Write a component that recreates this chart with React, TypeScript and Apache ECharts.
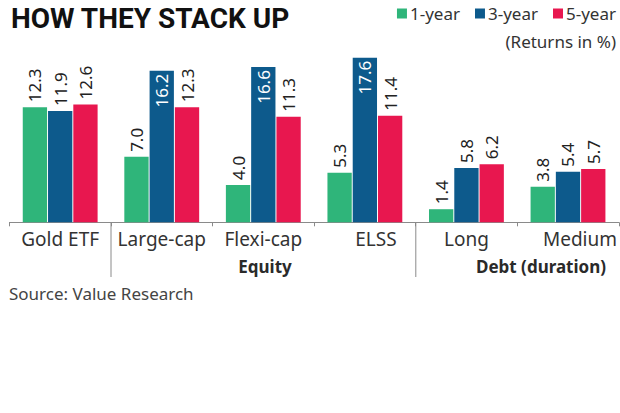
import React, { useEffect, useRef } from "react";
import * as echarts from "echarts";

const categories = ["Gold ETF", "Large-cap", "Flexi-cap", "ELSS", "Long", "Medium"];
const oneYear = [12.3, 7.0, 4.0, 5.3, 1.4, 3.8];
const threeYear = [11.9, 16.2, 16.6, 17.6, 5.8, 5.4];
const fiveYear = [12.6, 12.3, 11.3, 11.4, 6.2, 5.7];
const seriesNames = ["1-year", "3-year", "5-year"];
const colors = ["#2fb57a", "#0d5a8c", "#e8174f"];
const labelShift: Record<string, number> = { ELSS: 22, Medium: 24 };

const FONT = "'Noto Sans', sans-serif";
const GRID_LEFT = 9.4;
const GRID_RIGHT = 1;
const W = 620;
const H = 413;
const CAT_W = (W - GRID_LEFT - GRID_RIGHT) / categories.length;

export default function App() {
  const ref = useRef<HTMLDivElement>(null);
  useEffect(() => {
    document.body.style.margin = "0";
    const chart = echarts.init(ref.current!, undefined, { renderer: "svg" });
    const topLabel = {
      show: true,
      position: "top",
      rotate: 90,
      align: "left",
      verticalAlign: "middle",
      distance: 5,
      fontSize: 17,
      color: "#222",
      fontFamily: FONT,
      formatter: (p: any) => Number(p.value).toFixed(1),
    };
    const makeData = (arr: number[], allowInside: boolean) =>
      arr.map((v) =>
        allowInside && v > 15
          ? {
              value: v,
              label: {
                position: "insideTop",
                align: "right",
                color: "#fff",
                distance: 3,
              },
            }
          : v
      );
    const lists = [oneYear, threeYear, fiveYear];
    chart.setOption({
      animation: false,
      grid: { left: GRID_LEFT, right: GRID_RIGHT, top: 54, bottom: H - 222.3 },
      legend: {
        data: seriesNames,
        right: 4,
        top: 3,
        padding: [2, 0, 2, 0],
        icon: "rect",
        itemWidth: 10,
        itemHeight: 10,
        itemGap: 15,
        textStyle: { fontSize: 17, color: "#333", fontFamily: FONT, padding: [0, 0, 0, -2] },
      },
      xAxis: {
        type: "category",
        data: categories,
        axisLine: { lineStyle: { color: "#8a8a8a", width: 1 } },
        axisTick: { show: true, length: 4, lineStyle: { color: "#8a8a8a" } },
        axisLabel: {
          interval: 0,
          fontSize: 19,
          color: "#333",
          fontFamily: FONT,
          margin: 7,
          formatter: (v: string) =>
            labelShift[v] ? `{s${labelShift[v]}|${v}}` : v,
          rich: {
            s22: { fontSize: 19, color: "#333", fontFamily: FONT, padding: [0, 0, 0, 22] },
            s24: { fontSize: 19, color: "#333", fontFamily: FONT, padding: [0, 0, 0, 24] },
          },
        },
      },
      yAxis: {
        type: "value",
        min: 0,
        max: 18,
        show: false,
        splitLine: { show: false },
      },
      series: lists.map((arr, i) => ({
        name: seriesNames[i],
        type: "bar",
        barWidth: 24.3,
        barGap: "4%",
        itemStyle: { color: colors[i] },
        label: topLabel,
        data: makeData(arr, i === 1),
      })),
      graphic: [
        {
          type: "text",
          left: 11,
          top: 4,
          style: {
            text: "HOW THEY STACK UP",
            fontSize: 28,
            fontWeight: "bold",
            fontFamily: "Roboto, sans-serif",
            fill: "#111",
          },
        },
        {
          type: "text",
          right: 4,
          top: 33,
          style: { text: "(Returns in %)", fontSize: 17, fontFamily: FONT, fill: "#333" },
        },
        {
          type: "text",
          x: 265,
          y: 266,
          style: {
            text: "Equity",
            fontSize: 17,
            fontWeight: "bold",
            fontFamily: FONT,
            fill: "#2a2a2a",
            align: "center",
            verticalAlign: "middle",
          },
        },
        {
          type: "text",
          x: 541,
          y: 266,
          style: {
            text: "Debt (duration)",
            fontSize: 17,
            fontWeight: "bold",
            fontFamily: FONT,
            fill: "#2a2a2a",
            align: "center",
            verticalAlign: "middle",
          },
        },
        {
          type: "text",
          x: 9,
          y: 293,
          style: {
            text: "Source: Value Research",
            fontSize: 17,
            fontFamily: FONT,
            fill: "#444",
            verticalAlign: "middle",
          },
        },
        ...[1, 4].map((k) => ({
          type: "line",
          shape: {
            x1: GRID_LEFT + k * CAT_W,
            y1: 222.3,
            x2: GRID_LEFT + k * CAT_W,
            y2: 277,
          },
          style: { stroke: "#8a8a8a", lineWidth: 1 },
        })),
      ],
    });
    return () => chart.dispose();
  }, []);
  return <div ref={ref} style={{ width: W, height: H }} />;
}
